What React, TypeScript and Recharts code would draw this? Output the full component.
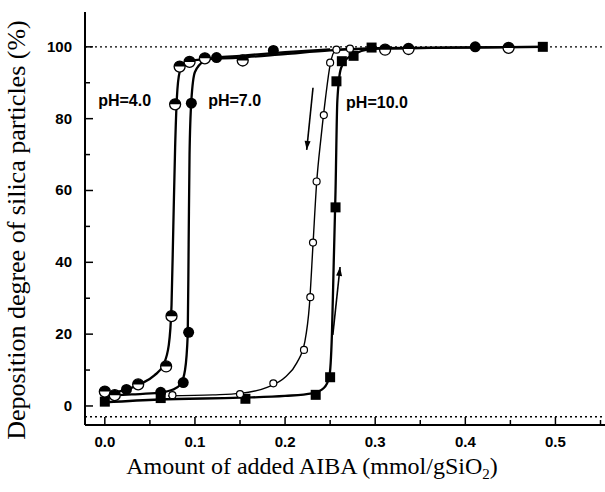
import { ComposedChart, Line, Scatter, XAxis, YAxis, ReferenceLine, ReferenceDot } from 'recharts'

// measured points, read off the figure
// pH=4.0 (half-filled circles)
const ph4X = [0, 0.011, 0.037, 0.068, 0.074, 0.078, 0.083, 0.094, 0.111, 0.153, 0.311, 0.337, 0.448]
const ph4Y = [4, 3, 6, 11, 25, 84, 94.5, 95.8, 96.8, 96.2, 99.2, 99.4, 99.7]

// pH=7.0 (filled circles)
const ph7X = [0.024, 0.062, 0.087, 0.093, 0.096, 0.124, 0.187, 0.411]
const ph7Y = [4.6, 3.8, 6.5, 20.5, 84.3, 97, 99, 100]

// pH=10.0, decreasing branch (small open circles)
const ph10dX = [0.075, 0.15, 0.187, 0.221, 0.228, 0.231, 0.235, 0.243, 0.25, 0.257, 0.272]
const ph10dY = [3, 3.3, 6.3, 15.6, 30.3, 45.5, 62.5, 81, 95.6, 99.2, 99.5]

// pH=10.0, increasing branch (filled squares)
const ph10uX = [0, 0.062, 0.156, 0.234, 0.25, 0.256, 0.257, 0.263, 0.276, 0.296, 0.486]
const ph10uY = [1.2, 2.2, 2.0, 3.1, 8, 55.3, 90.4, 96, 97.5, 99.8, 100]

// fitted curves drawn through the points
const fit4X = [0, 0.02, 0.04, 0.055, 0.065, 0.071, 0.074, 0.076, 0.078, 0.08, 0.083, 0.088, 0.1, 0.15, 0.2, 0.25, 0.3, 0.486]
const fit4Y = [3.5, 4.3, 6.2, 8.5, 11.5, 17, 28, 50, 72, 86, 93, 95.5, 96.3, 97, 98, 99, 99.6, 100]
const fit7X = [0, 0.03, 0.06, 0.075, 0.084, 0.089, 0.092, 0.093, 0.094, 0.096, 0.1, 0.11, 0.124, 0.15, 0.2, 0.25]
const fit7Y = [2.8, 3.2, 3.7, 4.5, 6, 10, 20, 45, 70, 85, 93, 96, 97, 97.5, 98.5, 99.3]
const fit10dX = [0.07, 0.12, 0.15, 0.18, 0.2, 0.213, 0.222, 0.227, 0.231, 0.235, 0.24, 0.245, 0.25, 0.256, 0.27, 0.34]
const fit10dY = [2.8, 3.1, 3.5, 5.2, 8, 12, 18, 28, 45, 62, 75, 86, 95, 99, 99.5, 99.5]
const fit10uX = [0, 0.06, 0.15, 0.2, 0.23, 0.243, 0.249, 0.252, 0.254, 0.256, 0.258, 0.262, 0.27, 0.3, 0.486]
const fit10uY = [1.0, 1.8, 2.3, 2.8, 3.5, 5, 8, 20, 40, 60, 85, 94, 97, 99.5, 100]

const xTicks = [0, 0.05, 0.1, 0.15, 0.2, 0.25, 0.3, 0.35, 0.4, 0.45, 0.5, 0.55]
const yTicks = [0, 10, 20, 30, 40, 50, 60, 70, 80, 90, 100]

const zip = (xs: number[], ys: number[]) => xs.map((x, i) => ({ x, y: ys[i] }))

const SANS = '"Liberation Sans", Arial, sans-serif'
const SERIF = '"Liberation Serif", "Times New Roman", serif'

const HalfDot = ({ cx, cy }: any) => (
  <g>
    <circle cx={cx} cy={cy} r={5.5} fill="#fff" stroke="#000" strokeWidth={1.3} />
    <path d={`M${cx - 5.5},${cy} A5.5,5.5 0 0 1 ${cx + 5.5},${cy} Z`} fill="#000" />
  </g>
)
const FullDot = ({ cx, cy }: any) => <circle cx={cx} cy={cy} r={5.5} fill="#000" />
const OpenDot = ({ cx, cy }: any) => (
  <circle cx={cx} cy={cy} r={3.5} fill="#fff" stroke="#000" strokeWidth={1.2} />
)
const SquareDot = ({ cx, cy }: any) => <rect x={cx - 5} y={cy - 5} width={10} height={10} fill="#000" />

const XTick = ({ x, y, payload }: any) => {
  const v = payload.value
  const major = Math.abs(v * 10 - Math.round(v * 10)) < 1e-6
  return (
    <g>
      <line x1={x} y1={y} x2={x} y2={y - (major ? 8 : 5)} stroke="#000" strokeWidth={1.5} />
      {major && (
        <text x={x} y={y + 22} textAnchor="middle" fontFamily={SANS} fontWeight="bold" fontSize={15} fill="#000">
          {v.toFixed(1)}
        </text>
      )}
    </g>
  )
}

const YTick = ({ x, y, payload }: any) => {
  const v = payload.value
  const major = v % 20 === 0
  return (
    <g>
      <line x1={x} y1={y} x2={x + (major ? 8 : 5)} y2={y} stroke="#000" strokeWidth={1.5} />
      {major && (
        <text x={x - 13} y={y + 5} textAnchor="end" fontFamily={SANS} fontWeight="bold" fontSize={15} fill="#000">
          {v}
        </text>
      )}
    </g>
  )
}

const XTitle = () => (
  <text x={312} y={474} textAnchor="middle" fontFamily={SERIF} fontSize={24} fill="#000">
    Amount of added AIBA (mmol/gSiO
    <tspan fontSize={15} dy={5}>2</tspan>
    <tspan dy={-5}>)</tspan>
  </text>
)

const YTitle = () => (
  <text x={0} y={0} transform="translate(25,230) rotate(-90)" textAnchor="middle" fontFamily={SERIF} fontSize={26} fill="#000">
    Deposition degree of silica particles (%)
  </text>
)

const Arrow = (props: any) => {
  const { x1, y1, x2, y2 } = props
  const ang = Math.atan2(y2 - y1, x2 - x1)
  const l = 9
  const w = 3
  const bx = x2 - l * Math.cos(ang)
  const by = y2 - l * Math.sin(ang)
  const px = -Math.sin(ang) * w
  const py = Math.cos(ang) * w
  return (
    <g>
      <line x1={x1} y1={y1} x2={x2} y2={y2} stroke="#000" strokeWidth={1.6} />
      <polygon points={`${x2},${y2} ${bx + px},${by + py} ${bx - px},${by - py}`} fill="#000" />
    </g>
  )
}

const PhLabel = (text: string) => (props: any) => {
  const { viewBox } = props
  const cx = viewBox.x + (viewBox.width || 0) / 2
  const cy = viewBox.y + (viewBox.height || 0) / 2
  return (
    <text x={cx} y={cy + 6} textAnchor="middle" fontFamily={SANS} fontWeight="bold" fontSize={16} fill="#000">
      {text}
    </text>
  )
}

export default function App() {
  return (
    <div style={{ position: 'absolute', left: 0, top: 0, background: '#fff' }}>
      <ComposedChart width={605} height={492} margin={{ top: 12, right: 0, bottom: 0, left: 0 }}>
        <XAxis
          dataKey="x"
          type="number"
          domain={[-0.022, 0.555]}
          allowDataOverflow
          ticks={xTicks}
          interval={0}
          tickSize={0}
          tickMargin={0}
          tickLine={false}
          tick={<XTick />}
          height={67}
          axisLine={{ stroke: '#000', strokeWidth: 2 }}
          label={<XTitle />}
        />
        <XAxis
          xAxisId="top"
          orientation="top"
          type="number"
          domain={[-0.022, 0.555]}
          height={0}
          tick={false}
          tickLine={false}
          axisLine={{ stroke: '#000', strokeWidth: 2 }}
        />
        <YAxis
          dataKey="y"
          type="number"
          domain={[-5.3, 109.7]}
          allowDataOverflow
          ticks={yTicks}
          interval={0}
          tickSize={0}
          tickMargin={0}
          tickLine={false}
          tick={<YTick />}
          width={85}
          axisLine={{ stroke: '#000', strokeWidth: 2 }}
          label={<YTitle />}
        />
        <ReferenceLine y={100} stroke="#000" strokeWidth={1.3} strokeDasharray="2 3" />
        <ReferenceLine y={-3} stroke="#000" strokeWidth={1.3} strokeDasharray="2 3" />

        <Line data={zip(fit4X, fit4Y)} dataKey="y" type="monotone" stroke="#000" strokeWidth={2.3} dot={false} activeDot={false} isAnimationActive={false} />
        <Line data={zip(fit7X, fit7Y)} dataKey="y" type="monotone" stroke="#000" strokeWidth={2.3} dot={false} activeDot={false} isAnimationActive={false} />
        <Line data={zip(fit10dX, fit10dY)} dataKey="y" type="monotone" stroke="#000" strokeWidth={1.4} dot={false} activeDot={false} isAnimationActive={false} />
        <Line data={zip(fit10uX, fit10uY)} dataKey="y" type="monotone" stroke="#000" strokeWidth={2.3} dot={false} activeDot={false} isAnimationActive={false} />

        <Scatter data={zip(ph10uX, ph10uY)} dataKey="y" shape={<SquareDot />} isAnimationActive={false} />
        <Scatter data={zip(ph7X, ph7Y)} dataKey="y" shape={<FullDot />} isAnimationActive={false} />
        <Scatter data={zip(ph4X, ph4Y)} dataKey="y" shape={<HalfDot />} isAnimationActive={false} />
        <Scatter data={zip(ph10dX, ph10dY)} dataKey="y" shape={<OpenDot />} isAnimationActive={false} />

        <ReferenceLine segment={[{ x: 0.231, y: 88.6 }, { x: 0.224, y: 71.3 }]} shape={Arrow} ifOverflow="visible" />
        <ReferenceLine segment={[{ x: 0.253, y: 19.8 }, { x: 0.261, y: 38.7 }]} shape={Arrow} ifOverflow="visible" />

        <ReferenceDot x={0.022} y={85.2} r={0} fill="none" stroke="none" label={PhLabel('pH=4.0')} />
        <ReferenceDot x={0.144} y={85.2} r={0} fill="none" stroke="none" label={PhLabel('pH=7.0')} />
        <ReferenceDot x={0.302} y={84.7} r={0} fill="none" stroke="none" label={PhLabel('pH=10.0')} />
      </ComposedChart>
    </div>
  )
}
